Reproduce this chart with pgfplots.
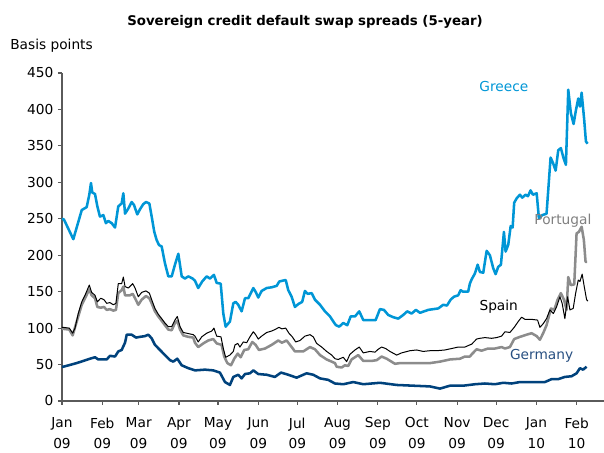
\documentclass[border=0pt]{standalone}
\usepackage{pgfplots}
\pgfplotsset{compat=1.18}
\usepackage{fontspec}
\setmainfont{DejaVu Sans}
\definecolor{greece}{RGB}{0,150,214}
\definecolor{portugal}{RGB}{140,140,140}
\definecolor{portlab}{RGB}{128,128,128}
\definecolor{germany}{RGB}{0,66,124}
\definecolor{germlab}{RGB}{40,80,130}
\definecolor{axisgray}{RGB}{90,90,90}
\begin{document}
\begin{tikzpicture}
\useasboundingbox (-46.5pt,-39pt) rectangle (406.5pt,300.75pt);
\begin{axis}[
 at={(0pt,0pt)}, anchor=south west,
 scale only axis, width=406.5pt, height=246pt,
 xmin=0, xmax=417, ymin=0, ymax=450,
 axis x line*=bottom, axis y line*=left,
 axis line style={axisgray, line width=0.8pt},
 tick style={axisgray, line width=0.8pt},
 tick align=outside, major tick length=3pt,
 xtick={0,31,59,90,120,151,181,212,243,273,304,334,365,396},
 xticklabels={Jan\\09,Feb\\09,Mar\\09,Apr\\09,May\\09,Jun\\09,Jul\\09,Aug\\09,Sep\\09,Oct\\09,Nov\\09,Dec\\09,Jan\\10,Feb\\10},
 xticklabel style={align=center, yshift=-6pt, font=\fontsize{10.3}{15.5}\selectfont},
 ytick={0,50,...,450},
 yticklabel style={font=\fontsize{10.3}{12}\selectfont},
 /pgf/number format/assume math mode=true,
 clip=false,
]
% Portugal
\addplot[portugal, line width=1.9pt, line join=round] coordinates {
(0,99)(0.8,99)(5.6,98)(8.2,90)(12.5,116)(15.2,132)(17.7,141)(21,153)(22.8,145)(25.4,141)(27.2,129)(29.8,128)(32.3,129)(34.4,125)(36.9,126)(39.5,124)(41.5,125)(43.3,148)(45.9,152)(47.2,157)(48.5,145)(52.3,145)(54.4,147)(56.2,141)(58.7,132)(61.3,139)(64.6,144)(67.2,141)(69,134)(71.5,123)(74.1,116)(76.7,110)(79.2,104)(81.8,98)(84.4,97)(86.9,107)(88.7,110)(90.8,98)(93.3,90)(97.2,88)(101,87)(102.3,80)(104.8,74)(108.7,79)(112.5,83)(116.4,85)(119,79)(122.8,77)(124.8,61)(127.2,52)(130,49)(132.5,58)(135.2,65)(137.5,60)(140.2,70)(143.3,71)(146.4,81)(149,77)(151.5,70)(156.2,72)(161.3,77)(166.4,83)(169.2,80)(172.8,83)(176.7,74)(179.2,68)(185.6,68)(190.8,74)(194.6,71)(198.5,63)(203.6,57)(210,52)(211.3,47)(215.2,46)(217.7,49)(220.2,48)(222.8,57)(227.9,63)(231.8,55)(238.2,55)(242.1,56)(245.9,61)(249.8,58)(256.2,51)(260,52)(267.7,52)(275.4,52)(283.1,52)(290.8,54)(298.5,57)(306.2,58)(310,61)(313.8,61)(315.2,64)(319,71)(322.8,69)(327.9,72)(333.1,72)(338.2,74)(340.8,72)(344.6,74)(347.9,85)(352.3,88)(357.5,91)(361.3,93)(365.2,89)(367.7,84)(370.2,93)(372.8,104)(376.2,127)(378.7,125)(381.3,139)(383.8,148)(386.2,139)(388.2,125)(389.5,170)(391.5,159)(394.1,160)(395.9,230)(397.7,232)(399.8,239)(401.5,221)(402.8,191)(404.1,191)
};
% Spain
\addplot[black, line width=0.75pt, line join=round] coordinates {
(0,101)(1,101)(5.6,100)(8.2,93)(10,100)(12.5,120)(15.2,136)(17.7,145)(21,159)(22.8,149)(25.4,145)(27.2,136)(29.8,141)(32.3,139)(34.4,134)(36.9,135)(39.5,132)(41.5,134)(43.3,161)(45.9,161)(47.2,170)(48.5,157)(51,155)(54.4,161)(56.2,155)(58.7,143)(61.3,149)(64.6,151)(67.2,148)(69,139)(71.5,127)(74.1,119)(76.7,113)(79.2,107)(81.8,102)(84.4,102)(86.9,111)(88.7,116)(90.8,102)(93.3,94)(95.9,93)(98.5,92)(101,91)(102.3,89)(104.8,81)(107.5,88)(111.3,93)(115.2,96)(116.9,100)(119,89)(122.3,88)(124.1,72)(125.9,60)(129.2,63)(131.8,68)(133.1,77)(135.2,79)(136.9,74)(139.5,81)(142.1,80)(144.6,88)(147.2,95)(149,91)(151,85)(153.6,89)(157.5,94)(161.3,96)(163.8,98)(166.9,101)(169.2,99)(172.1,100)(174.6,93)(177.2,88)(179.8,81)(183.1,83)(186.9,89)(190.8,91)(193.3,88)(195.9,79)(199.8,74)(203.6,68)(207.5,63)(210,58)(212.5,57)(216.4,60)(219,54)(221.5,64)(225.4,70)(228.7,74)(231.8,66)(236.9,68)(240.8,67)(243.3,71)(245.9,74)(249,72)(252.3,68)(257.5,63)(261.3,66)(267.7,69)(272.8,70)(277.9,68)(283.1,69)(288.2,69)(294.6,70)(299.8,72)(304.8,74)(310,74)(313.8,77)(315.2,78)(319,85)(321.5,86)(325.4,87)(330.5,86)(334.4,87)(338.2,89)(340.8,95)(344.6,94)(347.9,101)(351,109)(353.6,115)(356.2,112)(361.3,112)(365.9,111)(367.7,101)(370.2,106)(372.8,113)(375.4,125)(378,120)(380.5,129)(383.1,143)(384.8,134)(386.9,113)(389,143)(390.8,125)(393.3,127)(395.2,148)(397.2,166)(398.5,164)(400.2,174)(401.8,157)(403.6,139)(404.6,137)
};
% Germany
\addplot[germany, line width=1.9pt, line join=round] coordinates {
(0,47)(1,47)(11.3,52)(21.5,58)(25.4,60)(27.9,57)(34.4,57)(36.9,62)(40.8,61)(43.3,68)(45.9,70)(48.5,80)(49.8,91)(53.6,91)(56.9,87)(60,88)(63.8,89)(66.4,91)(69,86)(71.5,77)(75.4,70)(79.2,63)(83.1,56)(85.6,54)(88.7,58)(92.1,49)(97.2,45)(102.3,42)(110,43)(116.4,42)(121.5,39)(125.4,26)(129.2,22)(131.8,33)(135.6,36)(138.2,31)(140.8,37)(144.6,38)(147.2,42)(151,37)(157.5,36)(163.8,33)(168.5,39)(174.1,36)(180.5,32)(188.2,38)(193.3,36)(198.5,31)(204.8,29)(210,24)(216.4,23)(224.1,26)(231.8,23)(244.6,25)(257.5,22)(270.2,21)(283.1,20)(290.8,17)(298.5,21)(308.7,21)(317.7,23)(325.4,24)(333.1,23)(339.5,25)(345.9,24)(352.3,26)(365.2,26)(371.5,26)(376.7,30)(381.8,30)(386.9,33)(392.1,34)(395.9,38)(398.5,45)(400.9,43)(403.6,47)
};
% Greece
\addplot[greece, line width=1.9pt, line join=round] coordinates {
(0,250)(1.5,249)(8.7,222)(15.2,262)(19,266)(21,283)(22.3,299)(23.3,286)(25.4,284)(27.2,267)(29.2,253)(31.8,255)(33.8,244)(35.6,247)(38.2,244)(40.8,238)(43.3,267)(45.9,271)(47.2,285)(48.5,257)(51,264)(53.6,273)(55.4,269)(57.9,256)(60,263)(62.5,270)(64.6,273)(67.2,271)(69,253)(71,232)(72.8,221)(74.6,214)(76.7,212)(79.2,189)(81.8,171)(84.4,171)(86.9,187)(89.5,202)(92.1,171)(94.6,168)(97.2,171)(100.5,168)(102.3,165)(104.8,155)(107.9,164)(111.3,171)(113.8,168)(116.9,173)(119,162)(122.1,161)(124.1,120)(125.9,102)(129.2,109)(131.8,134)(133.6,136)(135.6,132)(138.2,123)(140.8,141)(143.3,141)(147.2,155)(149.2,149)(151,142)(153.6,151)(157.5,155)(161.3,156)(165.2,158)(167.2,164)(172.1,166)(174.1,152)(176.7,143)(179.2,129)(181.8,133)(184.8,136)(186.9,151)(189,147)(192.1,148)(194.6,139)(198.5,132)(202.3,123)(206.2,116)(209.5,107)(210.8,104)(213.3,102)(216.4,107)(219.5,104)(222.1,116)(225.4,116)(228.7,123)(231.8,111)(241.3,111)(244.6,126)(247.7,125)(251,118)(254.8,115)(258.7,113)(262.5,118)(265.6,123)(269,120)(272.3,125)(275.4,121)(281.8,125)(285.6,126)(289.5,127)(293.3,132)(296.2,131)(299,139)(301.5,143)(304.8,145)(306.7,152)(308.5,150)(312.5,150)(313.8,161)(315.2,167)(317.7,175)(319.8,187)(321.5,177)(324.1,176)(326.7,206)(329.2,200)(331.8,182)(333.6,174)(335.6,184)(337.7,187)(340,232)(341.3,205)(343.3,214)(345.2,240)(346.7,238)(347.9,272)(349.8,278)(352.3,283)(354.1,279)(356.7,283)(358.5,281)(360.5,289)(362.3,283)(365.2,285)(366.9,251)(369.5,255)(372.8,257)(375.9,334)(377.9,326)(379.8,316)(381.8,344)(383.8,347)(385.9,333)(387.7,324)(389.5,427)(391.5,395)(393.6,380)(395.4,399)(397.2,415)(398.5,404)(399.8,423)(401.8,385)(403.1,356)(404.4,353)
};
\node[greece, font=\fontsize{10.3}{12}\selectfont] at (axis cs:340,432) {Greece};
\node[portlab, font=\fontsize{10.3}{12}\selectfont] at (axis cs:385.4,248) {Portugal};
\node[black, font=\fontsize{10.3}{12}\selectfont] at (axis cs:336,129) {Spain};
\node[germlab, font=\fontsize{10.3}{12}\selectfont] at (axis cs:369,62) {Germany};
\end{axis}
\node[font=\bfseries\fontsize{10}{12}\selectfont] at (182.25pt,284.5pt) {Sovereign credit default swap spreads (5-year)};
\node[anchor=west, inner sep=0pt, font=\fontsize{10.3}{12}\selectfont] at (-39pt,266.25pt) {Basis points};
\end{tikzpicture}
\end{document}
